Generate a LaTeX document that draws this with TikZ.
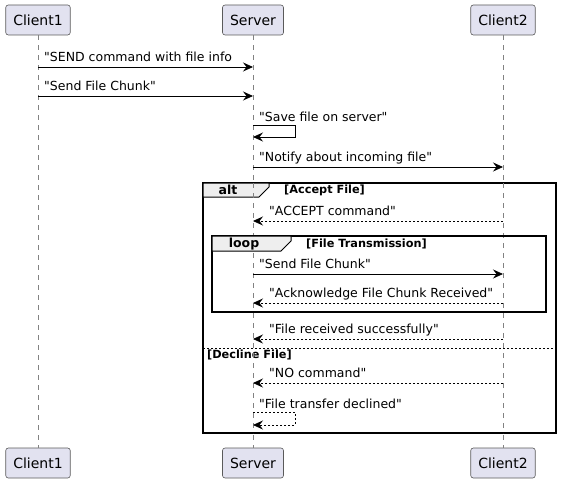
\documentclass[tikz,border=0pt]{standalone}
\usepackage{fontspec}
\setmainfont{DejaVu Sans}[Ligatures=TeXOff]
\usetikzlibrary{arrows.meta,positioning}
\definecolor{partfill}{RGB}{226,226,240}
\definecolor{partline}{RGB}{90,90,90}
\definecolor{tabfill}{RGB}{238,238,238}
\definecolor{lifegray}{RGB}{130,130,130}
\begin{document}
\begin{tikzpicture}[x=1pt,y=-1pt,
    part/.style={draw=partline,fill=partfill,rounded corners=2.5pt,line width=0.6pt,
      minimum height=30pt,inner xsep=7.5pt,font=\fontsize{14}{16}\selectfont},
    life/.style={draw=lifegray,line width=0.5pt,dash pattern=on 5pt off 5pt},
    msg/.style={line width=0.8pt,-{Stealth[length=10pt,width=9pt,inset=3.5pt]}},
    reply/.style={msg,dash pattern=on 2pt off 2pt},
    msgtxt/.style={inner sep=0pt,anchor=west,font=\fontsize{12.5}{14}\selectfont},
    frame/.style={draw,line width=1.4pt},
    tab/.style={draw,fill=tabfill,line width=1pt},
    tabtxt/.style={inner sep=0pt,font=\bfseries\fontsize{12.5}{14}\selectfont},
    guard/.style={inner sep=0pt,anchor=west,font=\bfseries\fontsize{11.3}{13}\selectfont}]
\useasboundingbox (0,0) rectangle (562,484);
% participants
\node[part] (c1top) at (38,20) {Client1};
\node[part] (srvtop) at (253,20) {Server};
\node[part] (c2top) at (503,20) {Client2};
\node[part] (c1bot) at (38,463) {Client1};
\node[part] (srvbot) at (253,463) {Server};
\node[part] (c2bot) at (503,463) {Client2};
% lifelines
\draw[life] (c1top) -- (c1bot);
\draw[life] (srvtop) -- (srvbot);
\draw[life] (c2top) -- (c2bot);
% frames
\draw[frame,fill=white] (203,183) rectangle (556,433);
\draw[tab] (203,183) -- (269,183) -- (269,187) -- (259,197) -- (203,197) -- cycle;
\node[tabtxt] (alt) at (228,190) {alt};
\node[guard] (accept) at (284,190) {[Accept File]};
\draw[dash pattern=on 2pt off 2pt,line width=0.8pt] (203,348) -- (556,348);
\node[guard] (decline) at (207,355) {[Decline File]};
\draw[life] (srvtop |- 0,183) -- (srvtop |- 0,433);
\draw[life] (c2top |- 0,183) -- (c2top |- 0,433);
\draw[frame] (212,236) rectangle (546,312);
\draw[tab] (212,236) -- (291,236) -- (291,241) -- (281,251) -- (212,251) -- cycle;
\node[tabtxt] (loop) at (244,244) {loop};
\node[guard] (trans) at (306,244) {[File Transmission]};
% messages
\node[msgtxt] (m1) at (44,57) {"SEND command with file info};
\draw[msg] (c1top |- 0,67) -- (srvtop |- 0,67);
\node[msgtxt] (m2) at (44,86) {"Send File Chunk"};
\draw[msg] (c1top |- 0,96) -- (srvtop |- 0,96);
\node[msgtxt] (m3) at (259,117) {"Save file on server"};
\draw[msg] (srvtop |- 0,125) -- (295,125) -- (295,137) -- (srvtop |- 0,137);
\node[msgtxt] (m4) at (259,158) {"Notify about incoming file"};
\draw[msg] (srvtop |- 0,167) -- (c2top |- 0,167);
\node[msgtxt] (m5) at (269,211) {"ACCEPT command"};
\draw[reply] (c2top |- 0,221) -- (srvtop |- 0,221);
\node[msgtxt] (m6) at (259,264) {"Send File Chunk"};
\draw[msg] (srvtop |- 0,274) -- (c2top |- 0,274);
\node[msgtxt] (m7) at (269,294) {"Acknowledge File Chunk Received"};
\draw[reply] (c2top |- 0,303) -- (srvtop |- 0,303);
\node[msgtxt] (m8) at (269,330) {"File received successfully"};
\draw[reply] (c2top |- 0,339) -- (srvtop |- 0,339);
\node[msgtxt] (m9) at (269,373) {"NO command"};
\draw[reply] (c2top |- 0,383) -- (srvtop |- 0,383);
\node[msgtxt] (m10) at (259,404) {"File transfer declined"};
\draw[reply] (srvtop |- 0,412) -- (295,412) -- (295,425) -- (srvtop |- 0,425);
\end{tikzpicture}
\end{document}
